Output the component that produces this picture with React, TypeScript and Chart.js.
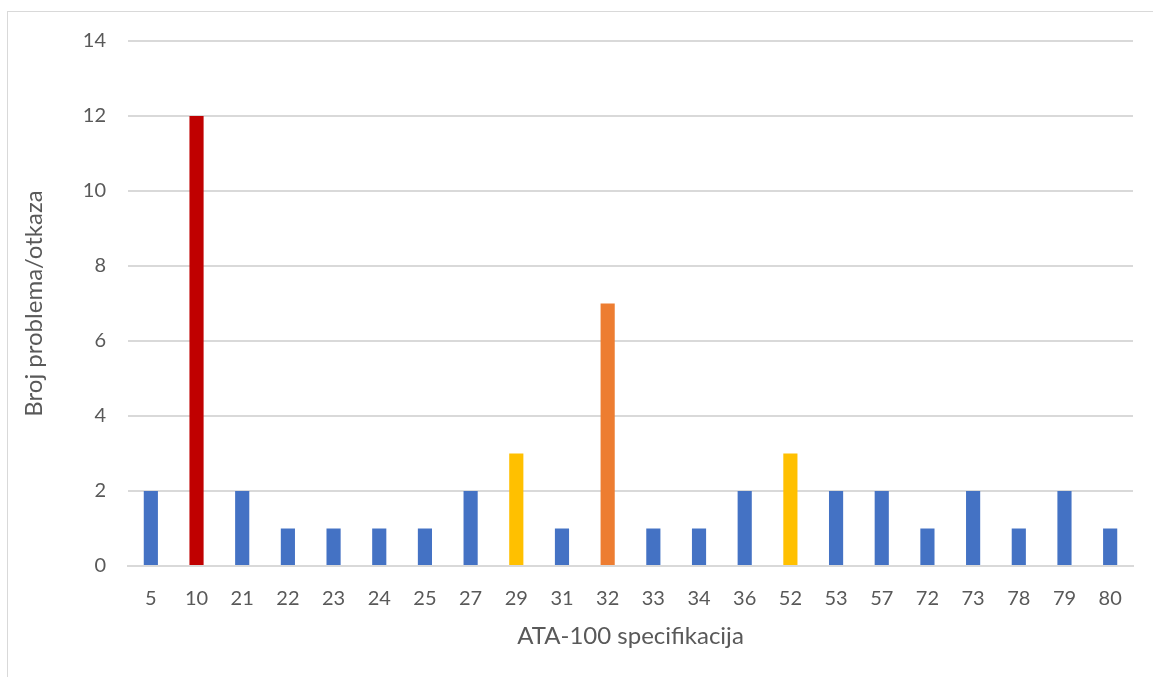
import React, { useEffect, useRef } from "react";
import { Chart, registerables } from "chart.js";

Chart.register(...registerables);

const categories = ["5", "10", "21", "22", "23", "24", "25", "27", "29", "31", "32", "33", "34", "36", "52", "53", "57", "72", "73", "78", "79", "80"];
const values = [2, 12, 2, 1, 1, 1, 1, 2, 3, 1, 7, 1, 1, 2, 3, 2, 2, 1, 2, 1, 2, 1];
const barColors = [
  "#4472C4", "#C00000", "#4472C4", "#4472C4", "#4472C4", "#4472C4", "#4472C4", "#4472C4",
  "#FFC000", "#4472C4", "#ED7D31", "#4472C4", "#4472C4", "#4472C4", "#FFC000", "#4472C4",
  "#4472C4", "#4472C4", "#4472C4", "#4472C4", "#4472C4", "#4472C4",
];
const yTitle = "Broj problema/otkaza";
const xTitle = "ATA-100 specifikacija";

const FONT = "Lato, 'Open Sans', sans-serif";
const TEXT = "#595959";
const GRID = "#D9D9D9";

export default function App() {
  const ref = useRef<HTMLCanvasElement>(null);
  useEffect(() => {
    if (!ref.current) return;
    const chart = new Chart(ref.current, {
      type: "bar",
      data: {
        labels: categories,
        datasets: [
          {
            data: values,
            backgroundColor: barColors,
            borderWidth: 0,
            categoryPercentage: 1,
            barPercentage: 0.31,
          },
        ],
      },
      options: {
        responsive: false,
        animation: false,
        layout: { padding: { left: 0, right: 20, top: 41, bottom: 0 } },
        plugins: { legend: { display: false }, tooltip: { enabled: false } },
        scales: {
          x: {
            grid: { display: false, drawTicks: false },
            border: { display: true, color: GRID, width: 2 },
            ticks: { color: TEXT, font: { family: FONT, size: 20 }, padding: 21, maxRotation: 0, autoSkip: false },
            title: { display: true, text: xTitle, color: TEXT, font: { family: FONT, size: 24 }, padding: { top: 0, bottom: 26 } },
            afterFit: (s: any) => { s.height = 111; },
          },
          y: {
            min: 0,
            max: 14,
            ticks: { stepSize: 2, color: TEXT, font: { family: FONT, size: 20 }, padding: 22 },
            grid: { color: GRID, lineWidth: 2, drawTicks: false },
            border: { display: false },
            title: { display: true, text: yTitle, color: TEXT, font: { family: FONT, size: 24 }, padding: { top: 20, bottom: 0 } },
            afterFit: (s: any) => { s.width = 128; },
          },
        },
      },
    });
    return () => chart.destroy();
  }, []);
  return (
    <div style={{ position: "fixed", left: 0, top: 0, width: 1153, height: 677, background: "#fff" }}>
      <div style={{ position: "absolute", left: 7, top: 11, width: 1300, height: 800, border: "1px solid #D9D9D9", boxSizing: "border-box" }} />
      <canvas ref={ref} width={1153} height={677} style={{ position: "absolute", left: 0, top: 0 }} />
    </div>
  );
}
